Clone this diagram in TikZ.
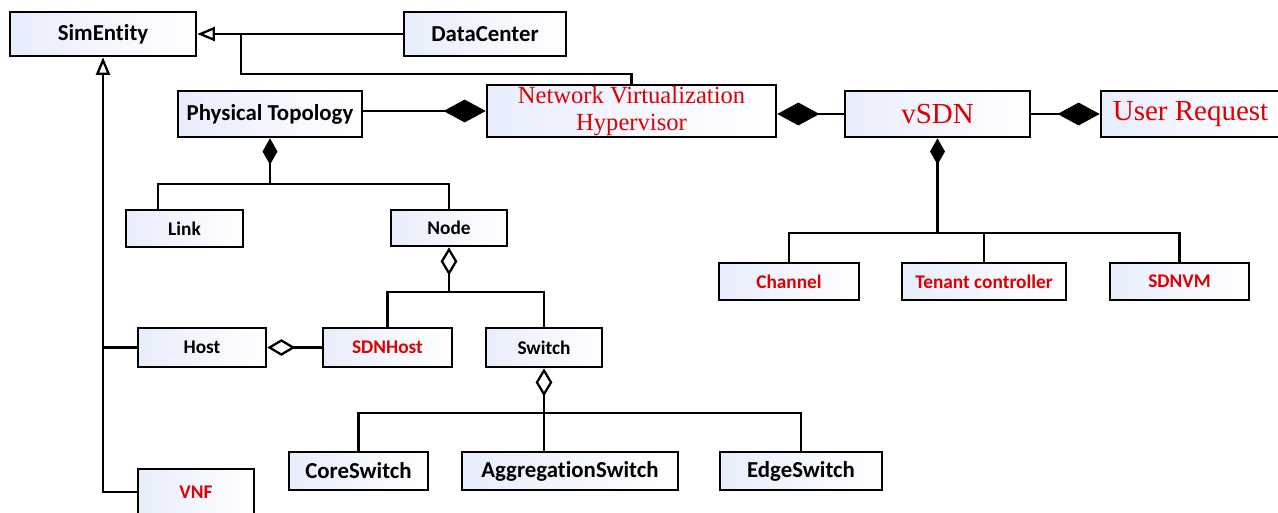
\documentclass[tikz,border=0pt]{standalone}
\usepackage{fontspec}
\setmainfont[Ligatures=NoCommon]{Carlito}
\newfontfamily\redserif{Liberation Serif}
\usepackage{tikz}
\usetikzlibrary{positioning}
\usetikzlibrary{arrows.meta,calc}
\usepackage{xcolor}
\definecolor{boxtint}{RGB}{232,237,252}
\definecolor{labred}{RGB}{222,0,0}

\tikzset{
        umlbox/.style={draw, line width=1.5pt, inner sep=0pt, left color=boxtint, right color=white,
            font=\bfseries\fontsize{13}{15}\selectfont},
        smallbox/.style={umlbox, font=\bfseries\fontsize{11}{13}\selectfont},
        redbox/.style={smallbox, text=labred},
        serifbox/.style={umlbox, text=labred, font=\redserif\fontsize{16.5}{19}\selectfont},
        link/.style={line width=1.3pt},
        inherit/.style={link, -{Triangle[open, length=10pt, width=8pt]}},
        compose/.style={link, {Diamond[length=24pt, width=13pt]}-},
        subcompose/.style={link, {Diamond[length=15pt, width=8.5pt]}-},
        aggregate/.style={link, {Diamond[open, length=16pt, width=9.5pt]}-}
}

\begin{document}
\begin{tikzpicture}[x=0.02cm, y=-0.02cm]
        \useasboundingbox (0,0) rectangle (1278,512);
        \clip (0,0) rectangle (1278,512);

        % top row
        \node[umlbox, minimum width=3.72cm, minimum height=0.88cm] (sim) at (103,34) {SimEntity};
        \node[umlbox, minimum width=3.24cm, minimum height=0.88cm] (dc) at (485,34) {DataCenter};
        \node[umlbox, minimum width=3.68cm, minimum height=0.92cm] (pt) at (270,114) {Physical Topology};
        \node[serifbox, minimum width=5.78cm, minimum height=1.04cm, align=center,
            font=\redserif\fontsize{14}{15.5}\selectfont] (nvh) at (631.5,111) {Network Virtualization\\Hypervisor};
        \node[serifbox, minimum width=3.70cm, minimum height=0.92cm] (vsdn) at (937.5,114) {vSDN};
        \node[serifbox, minimum width=3.58cm, minimum height=0.92cm] (ureq) at (1190.5,114) {User Request};

        % physical side
        \node[smallbox, minimum width=2.34cm, minimum height=0.74cm] (link) at (184.5,228.5) {Link};
        \node[smallbox, minimum width=2.32cm, minimum height=0.72cm] (node) at (449,228) {Node};
        \node[smallbox, minimum width=2.56cm, minimum height=0.78cm] (host) at (202,347.5) {Host};
        \node[redbox, minimum width=2.58cm, minimum height=0.78cm] (sdnh) at (387.5,347.5) {SDNHost};
        \node[smallbox, minimum width=2.32cm, minimum height=0.78cm] (sw) at (544,347.5) {Switch};
        \node[umlbox, minimum width=2.78cm, minimum height=0.76cm] (core) at (358.5,471) {CoreSwitch};
        \node[umlbox, minimum width=4.32cm, minimum height=0.76cm] (agg) at (570,471) {AggregationSwitch};
        \node[umlbox, minimum width=3.24cm, minimum height=0.76cm] (edge) at (801,471) {EdgeSwitch};
        \node[redbox, minimum width=2.32cm, minimum height=0.92cm] (vnf) at (196,492) {VNF};

        % virtual side
        \node[redbox, minimum width=2.80cm, minimum height=0.74cm] (chan) at (789,281.5) {Channel};
        \node[redbox, minimum width=3.28cm, minimum height=0.74cm] (tenant) at (984,281.5) {Tenant controller};
        \node[redbox, minimum width=2.78cm, minimum height=0.74cm] (sdnvm) at (1179.5,281.5) {SDNVM};

        \coordinate (nvhbend) at (241,74);
        \coordinate (pbus) at (270,184);
        \coordinate (nbus) at (449,292);
        \coordinate (sbus) at (544,413);
        \coordinate (vbus) at (937.5,233);

        % generalization
        \draw[inherit] (dc.west) -- (sim.east);
        \draw[link] (nvh.north) |- (nvhbend) -- (nvhbend |- sim.east);
        \draw[inherit] (vnf.west) -| (sim.south);
        \draw[link] (host.west) -- (host.west -| sim.south);

        % composition
        \draw[compose] (nvh.west) -- (nvh.west -| pt.east);
        \draw[compose] (vsdn.west -| nvh.east) -- (vsdn.west);
        \draw[compose] (ureq.west) -- (vsdn.east);
        \draw[subcompose] (pt.south) -- (pbus);
        \draw[link] ([xshift=0.66cm]link.north west) |- (pbus) -| (node.north);
        \draw[subcompose] (vsdn.south) -- (vbus);
        \draw[link] (chan.north) |- (vbus) -| (sdnvm.north);
        \draw[link] (tenant.north) -- (tenant.north |- vbus);

        % aggregation
        \draw[aggregate] (node.south) -- (nbus);
        \draw[link] (sdnh.north) |- (nbus) -| (sw.north);
        \draw[aggregate] (host.east) -- (sdnh.west);
        \draw[aggregate] (sw.south) -- (sbus);
        \draw[link] (core.north) |- (sbus) -| (edge.north);
        \draw[link] (sbus) -- (sbus |- agg.north);
\end{tikzpicture}
\end{document}
